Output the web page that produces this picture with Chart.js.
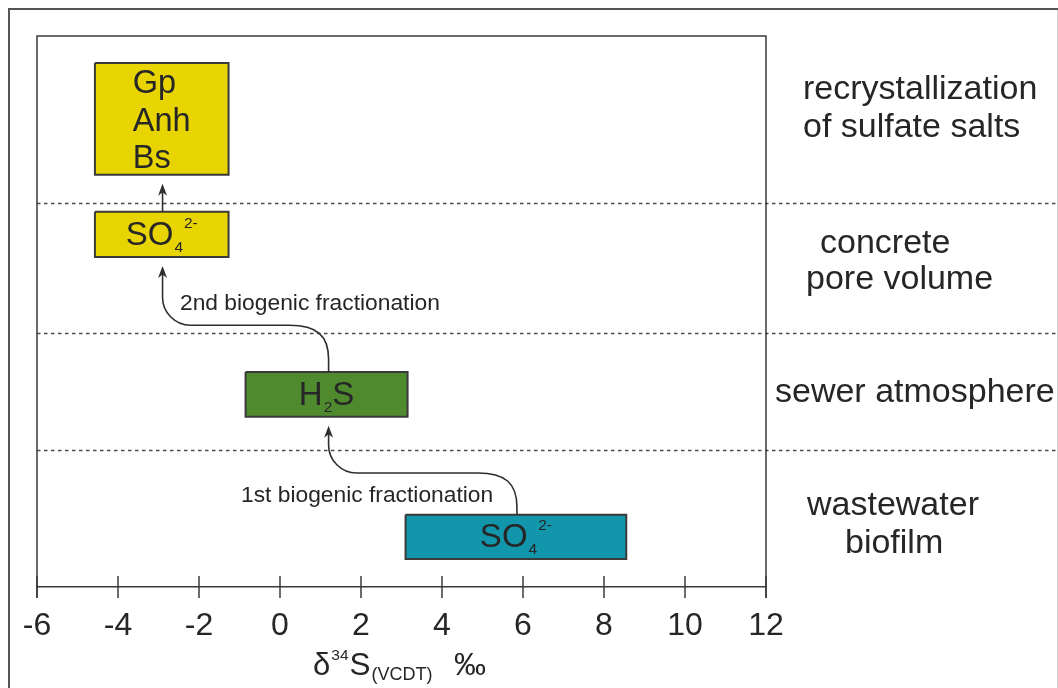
<!DOCTYPE html>
<html>
<head>
<meta charset="utf-8">
<script src="https://cdn.jsdelivr.net/npm/chart.js@4/dist/chart.umd.min.js"></script>
<style>
  html, body { margin: 0; padding: 0; background: #ffffff; }
  #wrap { width: 1058px; height: 688px; position: relative; }
</style>
</head>
<body>
<div id="wrap"><canvas id="c" width="1058" height="688"></canvas></div>
<script>
// δ34S axis (‰ VCDT)
const xMin = -6;
const xMax = 12;
const xStep = 2;

// Sulfur pools: δ34S range and vertical placement on the (unitless) level axis
const poolNames   = ['Gp Anh Bs', 'SO4 pore water', 'H2S', 'SO4 wastewater'];
const poolLow     = [-4.57, -4.57, -0.85, 3.10];
const poolHigh    = [-1.27, -1.27, 3.15, 8.55];
const poolTop     = [95.1, 68.1, 39.0, 13.1];
const poolBottom  = [74.8, 59.9, 30.9, 5.1];

// Dotted separators between the environments
const zoneEdges = [69.7, 46.1, 24.9];
const zoneNames = [
  ['recrystallization', 'of sulfate salts'],
  ['concrete', 'pore volume'],
  ['sewer atmosphere'],
  ['wastewater', 'biofilm']
];

// Transfer paths between pools
const arrowFrom   = [1, 2, 3];
const arrowTo     = [0, 1, 2];
const arrowFromX  = [-2.9, 1.2, 5.85];
const arrowToX    = [-2.9, -2.9, 1.2];
const arrowBend   = [null, 47.5, 20.7];
const arrowLabels = ['', '2nd biogenic fractionation', '1st biogenic fractionation'];

// ---- styling / layout ----
const FONT = '"Liberation Sans", Arial, Helvetica, sans-serif';
const INK = '#262626';
const poolFill = ['#e8d400', '#e8d400', '#4f8a2f', '#1296ab'];
const poolText = [
  { lines: ['Gp', 'Anh', 'Bs'] },
  { parts: [['SO', 0], ['4', -1], ['2-', 1]] },
  { parts: [['H', 0], ['2', -1], ['S', 0]] },
  { parts: [['SO', 0], ['4', -1], ['2-', 1]] }
];
const zoneLabelPos = [
  [[803, 99], [803, 137]],
  [[820, 253], [806, 289]],
  [[775, 402]],
  [[807, 515], [845, 553]]
];
const arrowLabelPos = [null, [180, 310], [241, 502]];

function rectPoints(i) {
  return [
    { x: poolLow[i],  y: poolTop[i] },
    { x: poolHigh[i], y: poolTop[i] },
    { x: poolHigh[i], y: poolBottom[i] },
    { x: poolLow[i],  y: poolBottom[i] },
    { x: poolLow[i],  y: poolTop[i] }
  ];
}

const datasets = poolNames.map((name, i) => ({
  label: name,
  data: rectPoints(i),
  showLine: true,
  fill: 'shape',
  tension: 0,
  backgroundColor: poolFill[i],
  borderColor: '#3a3a3a',
  borderWidth: 2,
  pointRadius: 0,
  pointHoverRadius: 0,
  clip: false
}));

function drawFormula(ctx, parts, cx, baseline) {
  const big = 'normal 33px ' + FONT;
  const small = 'normal 15.5px ' + FONT;
  let w = 0;
  parts.forEach(p => { ctx.font = p[1] === 0 ? big : small; w += ctx.measureText(p[0]).width + (p[1] !== 0 ? 1 : 0); });
  let x = cx - w / 2;
  ctx.textAlign = 'left';
  ctx.textBaseline = 'alphabetic';
  parts.forEach(p => {
    ctx.font = p[1] === 0 ? big : small;
    const dy = p[1] === -1 ? 7 : (p[1] === 1 ? -17 : 0);
    ctx.fillText(p[0], x + (p[1] !== 0 ? 1 : 0), baseline + dy);
    x += ctx.measureText(p[0]).width + (p[1] !== 0 ? 1 : 0);
  });
}

function arrowHead(ctx, x, y) {
  ctx.beginPath();
  ctx.moveTo(x, y);
  ctx.lineTo(x - 4.5, y + 12);
  ctx.lineTo(x, y + 8.5);
  ctx.lineTo(x + 4.5, y + 12);
  ctx.closePath();
  ctx.fill();
}

const diagram = {
  id: 'diagram',
  beforeDatasetsDraw(chart) {
    const { ctx, chartArea, scales: { y } } = chart;
    ctx.save();
    ctx.strokeStyle = '#4a4a4a';
    ctx.lineWidth = 1.5;
    ctx.setLineDash([3.5, 3.5]);
    zoneEdges.forEach(v => {
      const py = Math.round(y.getPixelForValue(v)) + 0.5;
      ctx.beginPath();
      ctx.moveTo(chartArea.left, py);
      ctx.lineTo(chart.width, py);
      ctx.stroke();
    });
    ctx.restore();
  },
  afterDatasetsDraw(chart) {
    const { ctx, scales: { x, y } } = chart;
    ctx.save();
    ctx.fillStyle = INK;

    // pool labels
    poolText.forEach((t, i) => {
      const cx = (x.getPixelForValue(poolLow[i]) + x.getPixelForValue(poolHigh[i])) / 2;
      const cy = (y.getPixelForValue(poolTop[i]) + y.getPixelForValue(poolBottom[i])) / 2;
      if (t.lines) {
        ctx.font = 'normal 32.5px ' + FONT;
        ctx.textAlign = 'left';
        ctx.textBaseline = 'alphabetic';
        const mw = Math.max(...t.lines.map(s => ctx.measureText(s).width));
        const lx = cx - mw / 2;
        const lh = 37.5;
        t.lines.forEach((s, k) => ctx.fillText(s, lx, cy + 12 + (k - 1) * lh));
      } else {
        drawFormula(ctx, t.parts, cx, cy + 10.5);
      }
    });

    // transfer arrows
    ctx.strokeStyle = '#2e2e2e';
    ctx.fillStyle = '#2e2e2e';
    ctx.lineWidth = 1.6;
    arrowFrom.forEach((f, i) => {
      const sx = x.getPixelForValue(arrowFromX[i]);
      const ex = x.getPixelForValue(arrowToX[i]);
      const sy = y.getPixelForValue(poolTop[f]);
      const ty = y.getPixelForValue(poolBottom[arrowTo[i]]) + 9;
      ctx.beginPath();
      ctx.moveTo(sx, sy);
      if (arrowBend[i] === null) {
        ctx.lineTo(ex, ty + 8);
      } else {
        const by = y.getPixelForValue(arrowBend[i]);
        const r1 = 34, r2 = 28;
        ctx.lineTo(sx, by + r1);
        ctx.bezierCurveTo(sx, by + r1 * 0.3, sx - r1 * 0.35, by, sx - r1 * 1.15, by);
        ctx.lineTo(ex + r2, by);
        ctx.bezierCurveTo(ex + r2 * 0.45, by, ex, by - r2 * 0.45, ex, by - r2);
        ctx.lineTo(ex, ty + 8);
      }
      ctx.stroke();
      arrowHead(ctx, ex, ty);
    });

    // arrow labels
    ctx.fillStyle = INK;
    ctx.font = 'normal 22.8px ' + FONT;
    ctx.textAlign = 'left';
    ctx.textBaseline = 'alphabetic';
    arrowLabels.forEach((s, i) => {
      if (s) ctx.fillText(s, arrowLabelPos[i][0], arrowLabelPos[i][1]);
    });

    // environment labels
    ctx.font = 'normal 34px ' + FONT;
    zoneNames.forEach((lines, i) => {
      lines.forEach((s, k) => ctx.fillText(s, zoneLabelPos[i][k][0], zoneLabelPos[i][k][1]));
    });
    ctx.restore();
  },
  afterDraw(chart) {
    const { ctx, chartArea, scales: { x } } = chart;
    const L = chartArea.left, R = chartArea.right, T = chartArea.top, B = chartArea.bottom;
    ctx.save();
    // plot frame
    ctx.strokeStyle = '#3a3a3a';
    ctx.lineWidth = 1.5;
    ctx.beginPath();
    ctx.moveTo(L, B + 11);
    ctx.lineTo(L, T);
    ctx.lineTo(R, T);
    ctx.lineTo(R, B + 11);
    ctx.stroke();
    // ticks crossing the axis
    x.ticks.forEach(t => {
      const px = x.getPixelForValue(t.value);
      ctx.beginPath();
      ctx.moveTo(px, B - 11);
      ctx.lineTo(px, B + 11);
      ctx.stroke();
    });
    // axis title δ34S(VCDT) ‰
    ctx.fillStyle = INK;
    ctx.textAlign = 'left';
    ctx.textBaseline = 'alphabetic';
    let tx = 313;
    const tb = 675;
    ctx.font = 'normal 31px ' + FONT;
    ctx.fillText('δ', tx, tb); tx += ctx.measureText('δ').width + 1;
    ctx.font = 'normal 15.5px ' + FONT;
    ctx.fillText('34', tx, tb - 15); tx += ctx.measureText('34').width + 1;
    ctx.font = 'normal 31.5px ' + FONT;
    ctx.fillText('S', tx, tb); tx += ctx.measureText('S').width + 1;
    ctx.font = 'normal 18px ' + FONT;
    ctx.fillText('(VCDT)', tx, tb + 5);
    ctx.font = 'normal 32px ' + FONT;
    ctx.fillText('‰', 454, tb);
    // outer border
    ctx.strokeStyle = '#555555';
    ctx.lineWidth = 2;
    ctx.beginPath();
    ctx.moveTo(9, chart.height + 2);
    ctx.lineTo(9, 9);
    ctx.lineTo(chart.width, 9);
    ctx.stroke();
    ctx.strokeStyle = '#d0d0d0';
    ctx.lineWidth = 1;
    ctx.beginPath();
    ctx.moveTo(1057.5, 10);
    ctx.lineTo(1057.5, chart.height);
    ctx.stroke();
    ctx.restore();
  }
};

new Chart(document.getElementById('c'), {
  type: 'scatter',
  data: { datasets },
  options: {
    responsive: false,
    devicePixelRatio: 1,
    animation: false,
    events: [],
    layout: { padding: { left: 37, top: 36, right: 292, bottom: 0 } },
    plugins: { legend: { display: false }, tooltip: { enabled: false } },
    scales: {
      x: {
        type: 'linear',
        min: xMin,
        max: xMax,
        afterFit(scale) { scale.height = 101; },
        ticks: {
          stepSize: xStep,
          padding: 20,
          color: INK,
          font: { family: FONT, size: 32 },
          maxRotation: 0
        },
        grid: { display: false, drawTicks: false },
        border: { display: true, color: '#3a3a3a', width: 1.5 }
      },
      y: {
        type: 'linear',
        min: 0,
        max: 100,
        display: false
      }
    }
  },
  plugins: [diagram]
});
</script>
</body>
</html>
